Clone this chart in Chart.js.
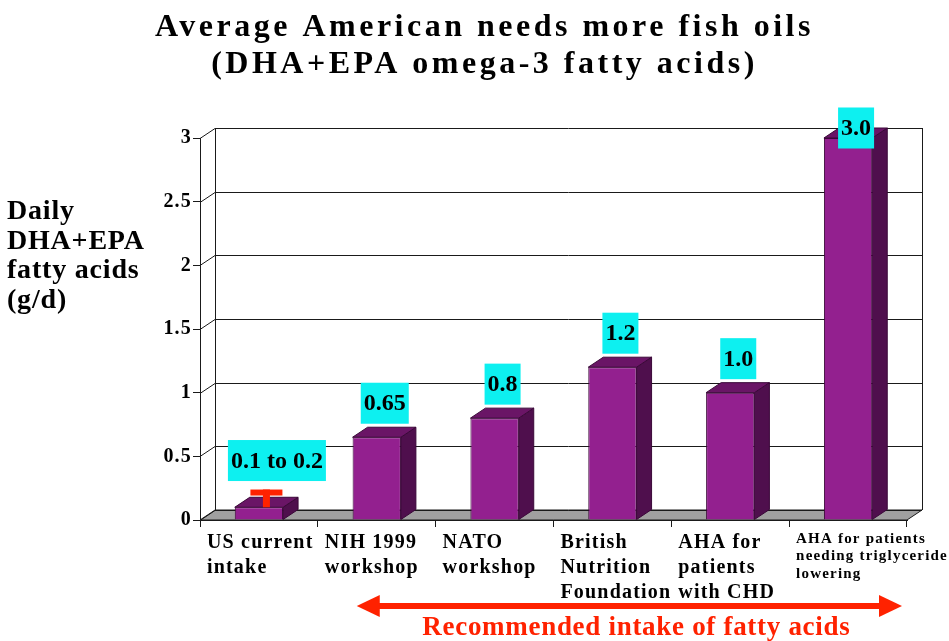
<!DOCTYPE html>
<html>
<head>
<meta charset="utf-8">
<script src="https://cdn.jsdelivr.net/npm/chart.js@4/dist/chart.umd.min.js"></script>
<style>
html,body{margin:0;padding:0;background:#fff;overflow:hidden}
#wrap{width:949px;height:641px}
</style>
</head>
<body>
<div id="wrap"><canvas id="c" width="949" height="641" style="width:949px;height:641px"></canvas></div>
<script>
// ---- data ----
const categories = [
  ["US current", "intake"],
  ["NIH 1999", "workshop"],
  ["NATO", "workshop"],
  ["British", "Nutrition", "Foundation"],
  ["AHA for", "patients", "with CHD"],
  ["AHA for patients", "needing triglyceride", "lowering"]
];
const intake = [0.1, 0.65, 0.8, 1.2, 1.0, 3.0];
const rangeLow = [0.1, null, null, null, null, null];
const rangeHigh = [0.2, null, null, null, null, null];
const valueLabels = ["0.1 to 0.2", "0.65", "0.8", "1.2", "1.0", "3.0"];
const yTicks = [0, 0.5, 1, 1.5, 2, 2.5, 3];
const titleLines = ["Average American needs more fish oils", "(DHA+EPA omega-3 fatty acids)"];
const yTitleLines = ["Daily", "DHA+EPA", "fatty acids", "(g/d)"];
const noteText = "Recommended intake of fatty acids";
const noteFromIndex = 1;

// ---- styles ----
const SERIF = "'Liberation Serif', 'Times New Roman', serif";
const DEPTH_X = 15, DEPTH_Y = -10;
const FRONT = '#93208F', TOP = '#6A1566', SIDE = '#4F0F4D', EDGE = '#3A0838';
const RED = '#FF2200', CYAN = '#0DF0F0';

Chart.defaults.font.family = SERIF;

const frame3d = {
  id: 'frame3d',
  beforeDraw(chart) {
    const tb = chart.titleBlock;
    if (tb && !tb._patched) {
      const orig = tb.draw;
      tb.draw = function (...args) {
        const c = this.ctx;
        c.save();
        c.letterSpacing = '3.5px';
        c.translate(31, 0);
        orig.apply(this, args);
        c.restore();
      };
      tb._patched = true;
    }
    chart.ctx.letterSpacing = '1.2px';
  },
  beforeDatasetsDraw(chart) {
    const { ctx, chartArea: a, scales: { y } } = chart;
    ctx.save();
    ctx.letterSpacing = '0px';
    ctx.fillStyle = '#fff';
    ctx.fillRect(a.left + DEPTH_X, a.top + DEPTH_Y, a.right - a.left, a.bottom - a.top);
    // floor
    ctx.beginPath();
    ctx.moveTo(a.left, a.bottom);
    ctx.lineTo(a.right, a.bottom);
    ctx.lineTo(a.right + DEPTH_X, a.bottom + DEPTH_Y);
    ctx.lineTo(a.left + DEPTH_X, a.bottom + DEPTH_Y);
    ctx.closePath();
    ctx.fillStyle = '#A0A0A0';
    ctx.fill();
    ctx.strokeStyle = '#1a1a1a';
    ctx.lineWidth = 1;
    ctx.stroke();
    // gridlines on back wall + left wall diagonals
    yTicks.forEach(v => {
      const py = Math.round(y.getPixelForValue(v)) + 0.5;
      ctx.beginPath();
      ctx.moveTo(a.left, py);
      ctx.lineTo(a.left + DEPTH_X, py + DEPTH_Y);
      ctx.lineTo(a.right + DEPTH_X, py + DEPTH_Y);
      ctx.stroke();
    });
    ctx.beginPath();
    ctx.moveTo(a.left + DEPTH_X + 0.5, a.top + DEPTH_Y);
    ctx.lineTo(a.left + DEPTH_X + 0.5, a.bottom + DEPTH_Y);
    ctx.moveTo(a.right + DEPTH_X + 0.5, a.top + DEPTH_Y);
    ctx.lineTo(a.right + DEPTH_X + 0.5, a.bottom + DEPTH_Y);
    ctx.stroke();
    ctx.restore();
  },
  afterDatasetsDraw(chart) {
    const { ctx, chartArea: a, scales: { y } } = chart;
    const meta = chart.getDatasetMeta(0);
    ctx.save();
    ctx.letterSpacing = '0px';
    ctx.lineWidth = 1;
    ctx.strokeStyle = EDGE;
    meta.data.forEach((bar) => {
      const l = bar.x - bar.width / 2, r = bar.x + bar.width / 2;
      const t = bar.y, b = bar.base;
      ctx.beginPath();
      ctx.moveTo(r, t);
      ctx.lineTo(r + DEPTH_X, t + DEPTH_Y);
      ctx.lineTo(r + DEPTH_X, b + DEPTH_Y);
      ctx.lineTo(r, b);
      ctx.closePath();
      ctx.fillStyle = SIDE;
      ctx.fill();
      ctx.stroke();
      ctx.beginPath();
      ctx.moveTo(l, t);
      ctx.lineTo(l + DEPTH_X, t + DEPTH_Y);
      ctx.lineTo(r + DEPTH_X, t + DEPTH_Y);
      ctx.lineTo(r, t);
      ctx.closePath();
      ctx.fillStyle = TOP;
      ctx.fill();
      ctx.stroke();
    });
    // range marks
    meta.data.forEach((bar, i) => {
      if (rangeHigh[i] == null) return;
      const cx = bar.x + DEPTH_X / 2;
      const yh = y.getPixelForValue(rangeHigh[i]) + DEPTH_Y / 2;
      const yl = y.getPixelForValue(rangeLow[i]);
      ctx.fillStyle = RED;
      ctx.fillRect(cx - 16, yh, 32, 6);
      ctx.fillRect(cx - 3.5, yh, 7, yl - yh);
    });
    // value labels
    ctx.font = `bold 24px ${SERIF}`;
    ctx.textAlign = 'center';
    ctx.textBaseline = 'middle';
    meta.data.forEach((bar, i) => {
      const hasRange = rangeHigh[i] != null;
      const v = hasRange ? Math.max(intake[i], rangeHigh[i]) : intake[i];
      let cy = y.getPixelForValue(v) + DEPTH_Y / 2 - 29;
      cy = Math.max(cy, a.top - 10);
      const cx = bar.x + (hasRange ? 18 : 8);
      const w = ctx.measureText(valueLabels[i]).width + 6;
      ctx.fillStyle = CYAN;
      ctx.fillRect(cx - w / 2, cy - 20.5, w, 41);
      ctx.fillStyle = '#000';
      ctx.fillText(valueLabels[i], cx, cy + 1);
    });
    ctx.restore();
  },
  afterDraw(chart) {
    const { ctx, chartArea: a, scales: { x } } = chart;
    ctx.save();
    ctx.letterSpacing = '0.8px';
    ctx.fillStyle = '#000';
    ctx.font = `bold 28px ${SERIF}`;
    ctx.textAlign = 'left';
    ctx.textBaseline = 'alphabetic';
    yTitleLines.forEach((s, i) => ctx.fillText(s, 7, 219 + i * 29.7));
    // arrow
    const x1 = x.getPixelForValue(noteFromIndex) - 20;
    const x2 = a.right - 5;
    const ay = a.bottom + 86;
    ctx.fillStyle = RED;
    ctx.fillRect(x1 + 20, ay - 3, x2 - x1 - 40, 6);
    ctx.beginPath();
    ctx.moveTo(x1, ay);
    ctx.lineTo(x1 + 23, ay - 11);
    ctx.lineTo(x1 + 23, ay + 11);
    ctx.closePath();
    ctx.fill();
    ctx.beginPath();
    ctx.moveTo(x2, ay);
    ctx.lineTo(x2 - 23, ay - 11);
    ctx.lineTo(x2 - 23, ay + 11);
    ctx.closePath();
    ctx.fill();
    ctx.letterSpacing = '0.7px';
    ctx.font = `bold 27px ${SERIF}`;
    ctx.textAlign = 'center';
    ctx.fillText(noteText, (x1 + x2) / 2 + 7, a.bottom + 115);
    ctx.restore();
    ctx.letterSpacing = '0px';
  }
};

new Chart(document.getElementById('c'), {
  type: 'bar',
  data: {
    labels: categories,
    datasets: [{
      data: intake,
      backgroundColor: FRONT,
      borderColor: EDGE,
      borderWidth: 1,
      barPercentage: 0.41,
      categoryPercentage: 1.0
    }]
  },
  options: {
    responsive: false,
    animation: false,
    devicePixelRatio: 1,
    layout: { padding: { left: 0, right: 42, top: 0, bottom: 0 } },
    plugins: {
      legend: { display: false },
      tooltip: { enabled: false },
      title: {
        display: true,
        text: titleLines,
        color: '#000',
        font: { family: SERIF, size: 32, weight: 'bold', lineHeight: 37 / 32 },
        padding: { top: 9, bottom: 55 }
      }
    },
    scales: {
      x: {
        type: 'category',
        offset: true,
        grid: { display: true, drawOnChartArea: false, drawTicks: true, tickLength: 7, color: '#1a1a1a', offset: true },
        border: { display: true, color: '#1a1a1a', width: 1 },
        ticks: {
          autoSkip: false,
          maxRotation: 0,
          minRotation: 0,
          align: 'start',
          labelOffset: -52,
          padding: 3,
          color: '#000',
          font: (c) => c.index === 5
            ? { family: SERIF, size: 15, weight: 'bold', lineHeight: 1.17 }
            : { family: SERIF, size: 20, weight: 'bold', lineHeight: 1.25 }
        },
        afterFit: (s) => { s.height = 121; s.paddingLeft = 0; s.paddingRight = 0; }
      },
      y: {
        min: 0,
        max: 3,
        afterBuildTicks: (s) => { s.ticks = yTicks.map(v => ({ value: v })); },
        grid: { display: true, drawOnChartArea: false, drawTicks: true, tickLength: 7, color: '#1a1a1a' },
        border: { display: true, color: '#1a1a1a', width: 1 },
        ticks: {
          padding: 1,
          color: '#000',
          font: { family: SERIF, size: 20, weight: 'bold' },
          callback: (v) => String(v)
        },
        afterFit: (s) => { s.width = 200; }
      }
    }
  },
  plugins: [frame3d]
});
</script>
</body>
</html>
